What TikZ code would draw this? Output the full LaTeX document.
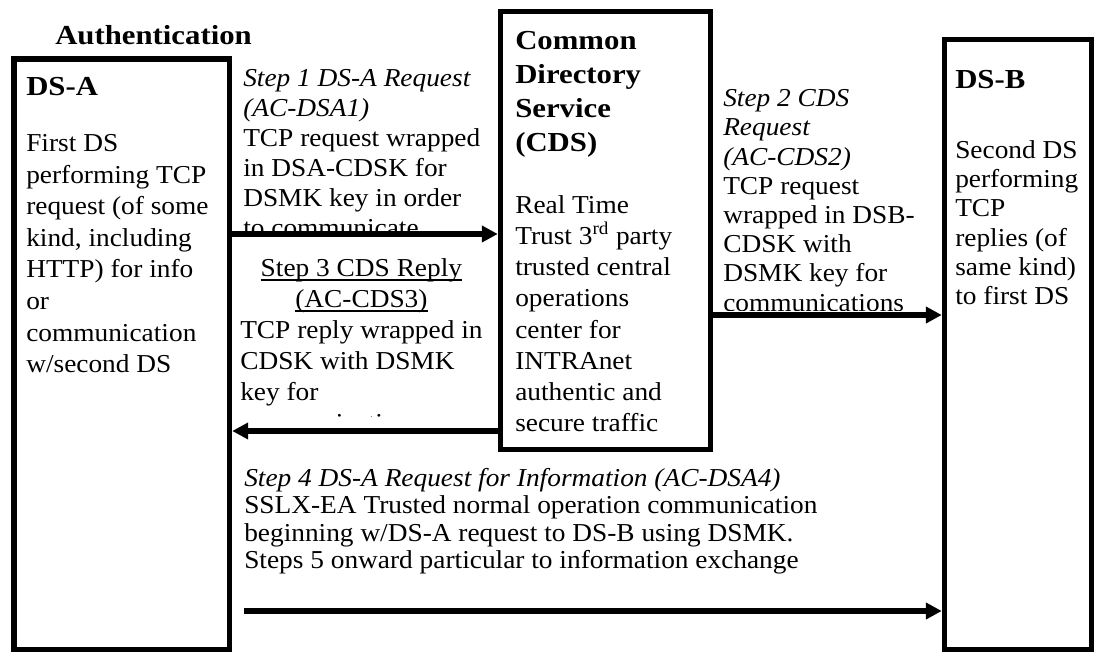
\documentclass[tikz,border=0pt]{standalone}
\usepackage{fontspec}
\setmainfont{Liberation Serif}[FakeStretch=1.06]
\newfontfamily\bfnt{Liberation Serif}[FakeStretch=1.12]
\usetikzlibrary{arrows.meta}
\newcommand\rmsz{\fontsize{19.35pt}{23pt}\selectfont}
\newcommand\bfsz{\bfnt\bfseries\fontsize{20.6pt}{25pt}\selectfont}
\newcommand\blk[2]{\vtop{\baselineskip=#1\relax\lineskiplimit=-100pt\lineskip=0pt\halign{##\hfil\cr#2\crcr}}}
\newcommand\ulin[1]{\setbox0=\hbox{#1}\rlap{\vrule width\wd0 height -1.5pt depth 3pt}\box0}
\tikzset{
  box/.style={draw, line width=4.1pt, inner sep=0pt},
  txt/.style={inner sep=0pt, anchor=base west, font=\rmsz},
  ttl/.style={inner sep=0pt, anchor=base west, font=\bfsz},
  conn/.style={line width=4.1pt, -{Triangle[length=12pt,width=12pt]}},
}
\begin{document}
\begin{tikzpicture}[x=0.75pt,y=-0.75pt]
\useasboundingbox (0,0) rectangle (1094,652);
\fill[white] (0,0) rectangle (1094,652);
% boxes
\node[box, minimum width=161.6pt, minimum height=442.9pt] (dsa) at (121.75,354.25) {};
\node[box, minimum width=157.5pt, minimum height=328.5pt] (cds) at (605.5,230.5) {};
\node[box, minimum width=110.25pt, minimum height=457.5pt] (dsb) at (1018,344.5) {};
% titles
\node[ttl] (auth) at (55,45) {Authentication};
\node[ttl] (dsat) at (26,96) {DS-A};
\node[ttl] (dsbt) at (955,88.3) {DS-B};
\node[ttl] (cdst) at (515,49.3) {\blk{25.6pt}{Common\cr Directory\cr Service\cr (CDS)}};
% box texts
\node[txt] (dsatx) at (26,151.5) {\blk{23.7pt}{First DS\cr performing TCP\cr request (of some\cr kind, including\cr HTTP) for info\cr or\cr communication\cr w/second DS}};
\node[txt] (cdstx) at (515,213.3) {\blk{23.4pt}{Real Time\cr Trust 3\textsuperscript{rd} party\cr trusted central\cr operations\cr center for\cr INTRAnet\cr authentic and\cr secure traffic}};
\node[txt] (dsbtx) at (955,158.3) {\blk{22pt}{Second DS\cr performing\cr TCP\cr replies (of\cr same kind)\cr to first DS}};
% step 1
\begin{scope}
\clip (232,50) rectangle (497,230);
\node[txt] (s1) at (243,86.5) {\blk{22.5pt}{\itshape Step 1 DS-A Request\cr \itshape (AC-DSA1)\cr TCP request wrapped\cr in DSA-CDSK for\cr DSMK key in order\cr to communicate}};
\end{scope}
% step 2
\begin{scope}
\clip (713,60) rectangle (940,310);
\node[txt] (s2) at (723,106.7) {\blk{21.9pt}{\itshape Step 2 CDS\cr \itshape Request\cr \itshape (AC-CDS2)\cr TCP request\cr wrapped in DSB-\cr CDSK with\cr DSMK key for\cr communications}};
\end{scope}
% step 3
\begin{scope}
\clip (232,240) rectangle (497,416);
\node[txt] (s3) at (240,276.7) {\blk{23.2pt}{\hfil\ulin{Step 3 CDS Reply}\cr \hfil\ulin{(AC-CDS3)}\cr TCP reply wrapped in\cr CDSK with DSMK\cr key for\cr communications}};
\end{scope}
% step 4
\node[txt] (s4) at (244,486.7) {\blk{20.4pt}{\itshape Step 4 DS-A Request for Information (AC-DSA4)\cr SSLX-EA Trusted normal operation communication\cr beginning w/DS-A request to DS-B using DSMK.\cr Steps 5 onward particular to information exchange}};
% connectors
\coordinate (y1) at (0,234);
\coordinate (y2) at (0,315);
\coordinate (y3) at (0,431);
\coordinate (a4s) at (244,611);
\draw[conn] (y1 -| dsa.east) -- (y1 -| cds.west);
\draw[conn] (y2 -| cds.east) -- (y2 -| dsb.west);
\draw[conn] (y3 -| cds.west) -- (y3 -| dsa.east);
\draw[conn] (a4s) -- (a4s -| dsb.west);
\end{tikzpicture}
\end{document}
